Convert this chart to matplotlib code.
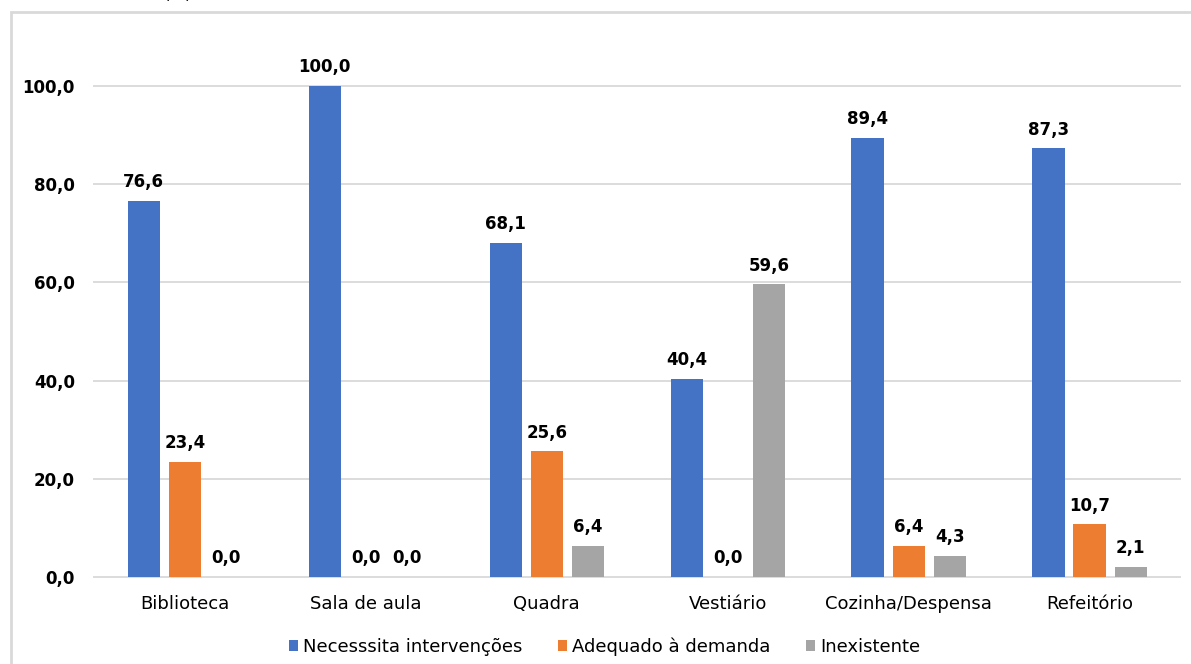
import matplotlib.pyplot as plt
import numpy as np
from matplotlib.patches import Rectangle

plt.rcParams['font.family'] = ['DejaVu Sans']

categorias = ["Biblioteca", "Sala de aula", "Quadra", "Vestiário", "Cozinha/Despensa", "Refeitório"]
series = ["Necesssita intervenções", "Adequado à demanda", "Inexistente"]
necessita = [76.6, 100.0, 68.1, 40.4, 89.4, 87.3]
adequado = [23.4, 0.0, 25.6, 0.0, 6.4, 10.7]
inexistente = [0.0, 0.0, 6.4, 59.6, 4.3, 2.1]
cores = ["#4472C4", "#ED7D31", "#A5A5A5"]

fig = plt.figure(figsize=(11.91, 6.64), dpi=100)
ax = fig.add_axes([0.0793, 0.131, 0.9115, 0.7395])

x = np.arange(len(categorias))
largura = 0.178
desloc = 0.227

for i, (vals, nome, cor) in enumerate(zip([necessita, adequado, inexistente], series, cores)):
    pos = x + (i - 1) * desloc
    ax.bar(pos, vals, width=largura, color=cor, label=nome, zorder=3)
    for p, v in zip(pos, vals):
        ax.annotate(f"{v:.1f}".replace(".", ","), (p, v), xytext=(0, 7),
                    textcoords="offset points", ha="center", va="bottom",
                    fontsize=12, fontweight="bold", annotation_clip=False)

ax.set_xlim(-0.5, len(categorias) - 0.5)
ax.set_ylim(0, 100)
ax.set_yticks(np.arange(0, 101, 20))
ax.set_yticklabels([f"{t:.1f}".replace(".", ",") for t in np.arange(0, 101, 20)],
                   fontsize=12, fontweight="bold")
ax.set_xticks(x)
ax.set_xticklabels(categorias, fontsize=13)
ax.tick_params(axis="both", length=0)
ax.tick_params(axis="y", pad=14)
ax.tick_params(axis="x", pad=13)
ax.grid(axis="y", color="#dcdcdc", linewidth=1.4, zorder=0)
for linha in ax.get_ygridlines():
    linha.set_clip_on(False)
for s in ax.spines.values():
    s.set_visible(False)

ax.legend(loc="upper center", bbox_to_anchor=(0.47, -0.09), ncol=3, frameon=False,
          fontsize=13, handlelength=0.5, handleheight=0.5, handletextpad=0.25,
          columnspacing=2.0)

# moldura do gráfico
fig.patches.append(Rectangle((0.0095, -0.05), 1.2, 1.032, transform=fig.transFigure,
                             fill=False, edgecolor="#d9d9d9", linewidth=2))
fig.text(0.149, 1.002, "(%)", ha="center", va="baseline", fontsize=12)

fig.savefig("out.png", dpi=100)
